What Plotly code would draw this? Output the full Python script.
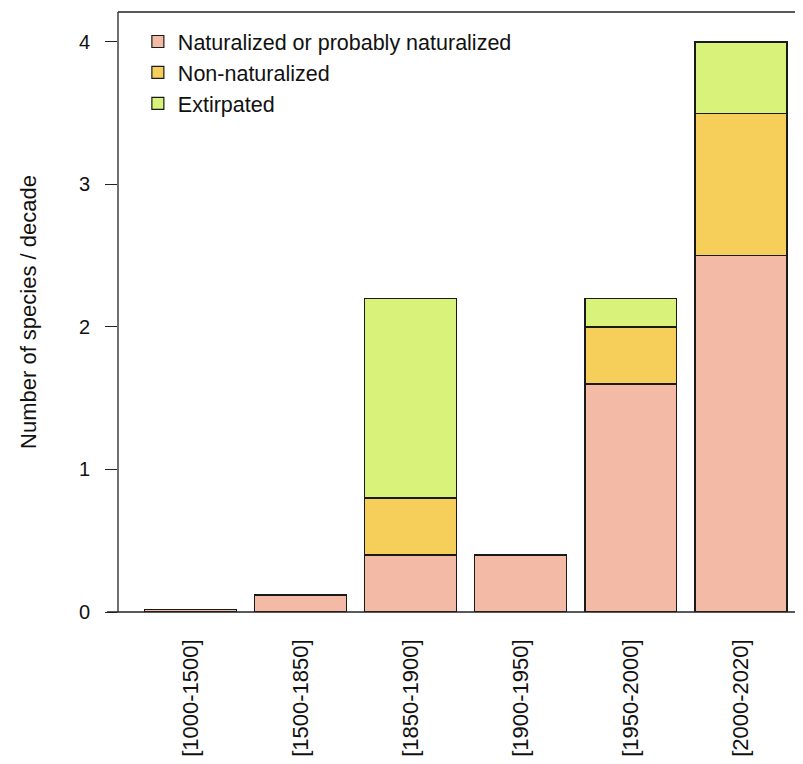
import plotly.graph_objects as go

categories = ["[1000-1500]", "[1500-1850]", "[1850-1900]", "[1900-1950]", "[1950-2000]", "[2000-2020]"]
naturalized = [0.02, 0.12, 0.4, 0.4, 1.6, 2.5]
non_naturalized = [0, 0, 0.4, 0, 0.4, 1.0]
extirpated = [0, 0, 1.4, 0, 0.2, 0.5]
y_ticks = [0, 1, 2, 3, 4]

series = [
    ("Naturalized or probably naturalized", naturalized, "#F3BBA6"),
    ("Non-naturalized", non_naturalized, "#F5CF5A"),
    ("Extirpated", extirpated, "#D9F27A"),
]

xpos = list(range(len(categories)))
fig = go.Figure()
for name, vals, col in series:
    fig.add_trace(go.Bar(
        x=xpos, y=vals, name=name,
        marker=dict(color=col, line=dict(color="#1a1a1a", width=1.2)),
    ))

axis_col = "#222222"
fig.update_layout(
    width=795, height=756,
    margin=dict(l=110, r=0, t=4, b=152),
    barmode="stack", bargap=0.165,
    plot_bgcolor="white", paper_bgcolor="white",
    font=dict(family="Liberation Sans, Arial, sans-serif", color="#111111", size=20),
    showlegend=True,
    legend=dict(
        x=0.029, y=0.985, xanchor="left", yanchor="top",
        traceorder="normal", font=dict(size=21.5),
        bgcolor="rgba(0,0,0,0)", itemwidth=30, tracegroupgap=0,
    ),
    xaxis=dict(
        range=[-0.658, 5.563], tickmode="array", tickvals=xpos, ticktext=categories,
        tickangle=-90, showgrid=False, zeroline=False, showline=False,
        ticks="", ticklabelstandoff=22, tickfont=dict(size=22),
    ),
    yaxis=dict(
        range=[0, 4.21], tickmode="array", tickvals=y_ticks, showgrid=False,
        zeroline=False, showline=False, ticks="outside", ticklen=12,
        tickcolor=axis_col, tickwidth=1.3, tickfont=dict(size=20),
        ticklabelstandoff=11,
        title=dict(text="Number of species / decade", font=dict(size=22), standoff=36),
    ),
    shapes=[
        dict(type="line", xref="paper", yref="paper", x0=-0.016, x1=1.0, y0=0, y1=0,
             line=dict(color=axis_col, width=1.3)),
        dict(type="line", xref="paper", yref="paper", x0=0, x1=0, y0=0, y1=1,
             line=dict(color=axis_col, width=1.3)),
        dict(type="line", xref="paper", yref="paper", x0=0, x1=1.0, y0=1, y1=1,
             line=dict(color=axis_col, width=1.3)),
    ],
)

fig.write_html("out.html")
